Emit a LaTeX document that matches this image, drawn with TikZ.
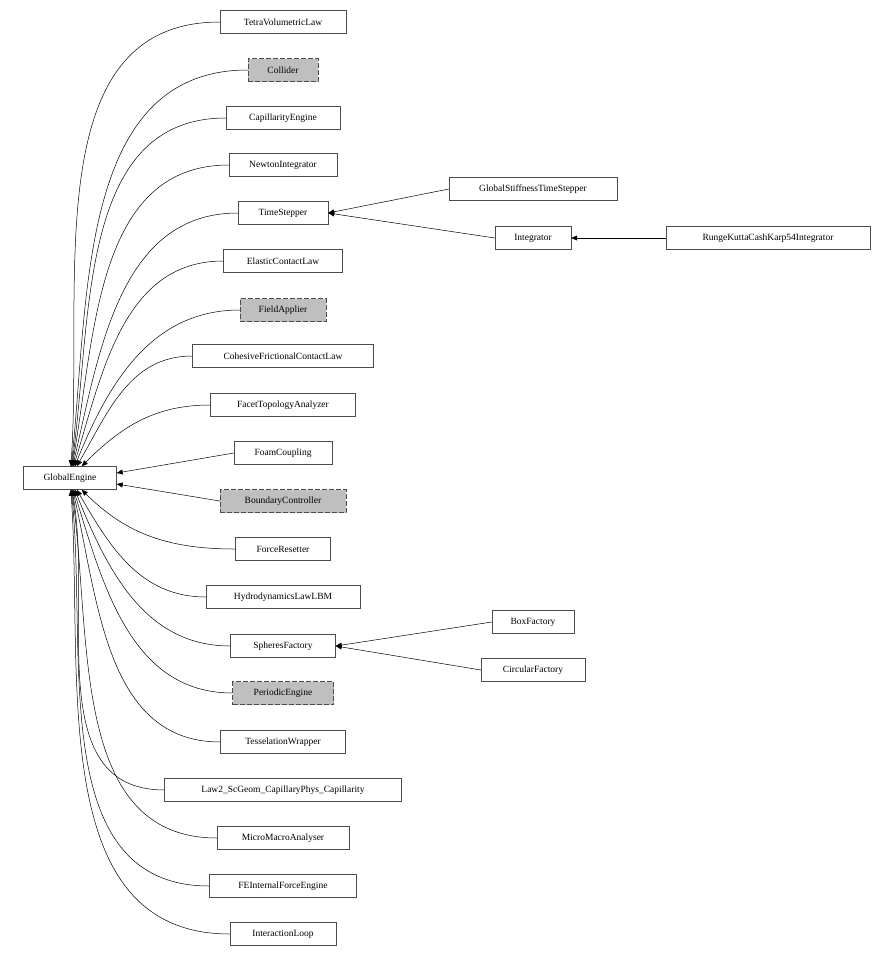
\documentclass[tikz,border=0pt]{standalone}
\usepackage{fontspec}
\setmainfont{Liberation Serif}
\usetikzlibrary{arrows.meta}
\begin{document}
\begin{tikzpicture}[x=1pt,y=-1pt,
  cls/.style={draw=black!70,fill=white,minimum height=23pt,inner xsep=6pt,font=\fontsize{9.5}{10}\selectfont},
  virt/.style={cls,fill=black!25,dashed,dash pattern=on 5pt off 2pt},
  edge/.style={{Triangle[length=6pt,width=5pt]}-,black,line width=0.5pt}]
\useasboundingbox (0,0) rectangle (895,956);
\node[cls,minimum width=93pt] (GE) at (70,478) {GlobalEngine};
\node[cls,minimum width=126pt] (A1) at (283,22) {TetraVolumetricLaw};
\node[virt,minimum width=70pt] (A2) at (283,70) {Collider};
\node[cls,minimum width=114pt] (A3) at (283,118) {CapillarityEngine};
\node[cls,minimum width=108pt] (A4) at (283,165) {NewtonIntegrator};
\node[cls,minimum width=90pt] (A5) at (283,213) {TimeStepper};
\node[cls,minimum width=119pt] (A6) at (283,261) {ElasticContactLaw};
\node[virt,minimum width=86pt] (A7) at (283,310) {FieldApplier};
\node[cls,minimum width=181pt] (A8) at (283,356) {CohesiveFrictionalContactLaw};
\node[cls,minimum width=145pt] (A9) at (283,405) {FacetTopologyAnalyzer};
\node[cls,minimum width=98pt] (A10) at (283,453) {FoamCoupling};
\node[virt,minimum width=126pt] (A11) at (283,501) {BoundaryController};
\node[cls,minimum width=95pt] (A12) at (283,549) {ForceResetter};
\node[cls,minimum width=154pt] (A13) at (283,597) {HydrodynamicsLawLBM};
\node[cls,minimum width=105pt] (A14) at (283,646) {SpheresFactory};
\node[virt,minimum width=101pt] (A15) at (283,693) {PeriodicEngine};
\node[cls,minimum width=125pt] (A16) at (283,742) {TesselationWrapper};
\node[cls,minimum width=237pt] (A17) at (283,790) {Law2\_ScGeom\_CapillaryPhys\_Capillarity};
\node[cls,minimum width=132pt] (A18) at (283,838) {MicroMacroAnalyser};
\node[cls,minimum width=147pt] (A19) at (283,886) {FEInternalForceEngine};
\node[cls,minimum width=106pt] (A20) at (283,934) {InteractionLoop};
\node[cls,minimum width=168pt] (B1) at (533,189) {GlobalStiffnessTimeStepper};
\node[cls,minimum width=76pt] (B2) at (533,238) {Integrator};
\node[cls,minimum width=204pt] (C1) at (768,238) {RungeKuttaCashKarp54Integrator};
\node[cls,minimum width=82pt] (B3) at (533,622) {BoxFactory};
\node[cls,minimum width=104pt] (B4) at (533,670) {CircularFactory};
\foreach \n/\a in {A1/86,A2/84,A3/82,A4/80,A5/77,A6/73,A7/68,A8/60,A9/45,
  A12/-45,A13/-60,A14/-68,A15/-73,A16/-77,A17/-80,A18/-82,A19/-84,A20/-86}
  \draw[edge] (GE) to[out=\a,in=180] (\n.west);
\draw[edge] (GE.east |- 0,473) -- (A10.west);
\draw[edge] (GE.east |- 0,484) -- (A11.west);
\draw[edge] (A5.east) -- (B1.west);
\draw[edge] (A5.east) -- (B2.west);
\draw[edge] (B2.east) -- (C1.west);
\draw[edge] (A14.east) -- (B3.west);
\draw[edge] (A14.east) -- (B4.west);
\end{tikzpicture}
\end{document}
